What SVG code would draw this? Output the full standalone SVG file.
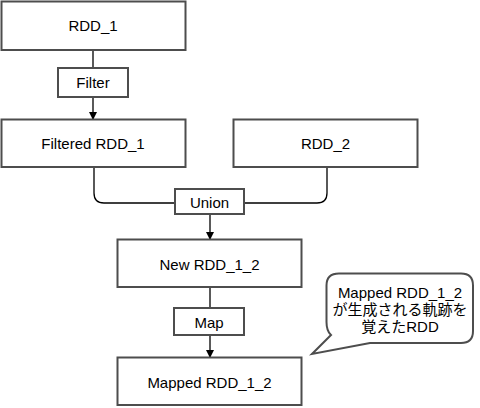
<svg xmlns="http://www.w3.org/2000/svg" width="480" height="408" viewBox="0 0 480 408">
<style>
.box{fill:#fff;stroke:#4d4d4d;stroke-width:2}
.lbl{fill:#fff;stroke:#4d4d4d;stroke-width:2}
.t{font-family:"Liberation Sans",Arial,sans-serif;font-size:15px;fill:#000;text-anchor:middle;dominant-baseline:central}
.c{fill:none;stroke:#000;stroke-width:1.3}
.cj{font-family:"Liberation Sans","Noto Sans CJK JP",sans-serif;font-size:15px;fill:#000;text-anchor:middle}
</style>
<defs>
<marker id="ah" markerWidth="8" markerHeight="8" refX="7" refY="4" orient="auto" markerUnits="userSpaceOnUse">
<path d="M0,0 L8,4 L0,8 Z" fill="#000"/>
</marker>
</defs>
<rect width="480" height="408" fill="#fff"/>
<g id="connectors">
<line class="c" x1="93" y1="50" x2="93" y2="68"/>
<line class="c" x1="93" y1="97" x2="93" y2="119" marker-end="url(#ah)"/>
<path class="c" d="M94,167 V193 Q94,203 104,203 H175"/>
<path class="c" d="M327,167 V193 Q327,203 317,203 H244"/>
<line class="c" x1="210" y1="214" x2="210" y2="239" marker-end="url(#ah)"/>
<line class="c" x1="210" y1="287" x2="210" y2="308"/>
<line class="c" x1="210" y1="335" x2="210" y2="357" marker-end="url(#ah)"/>
</g>
<g id="rdd1"><rect class="box" x="1.5" y="1.5" width="184" height="48.5"/><text class="t" x="93" y="25">RDD_1</text></g>
<g id="filter"><rect class="lbl" x="58" y="68" width="70" height="29"/><text class="t" x="93" y="82.5">Filter</text></g>
<g id="filtered"><rect class="box" x="1.5" y="119.5" width="184" height="47.5"/><text class="t" x="93" y="143.5">Filtered RDD_1</text></g>
<g id="rdd2"><rect class="box" x="233.5" y="119.5" width="184" height="47.5"/><text class="t" x="325.5" y="143.5">RDD_2</text></g>
<g id="union"><rect class="lbl" x="175" y="189" width="69" height="25"/><text class="t" x="209.5" y="202">Union</text></g>
<g id="new"><rect class="box" x="117.5" y="239.5" width="184" height="47.5"/><text class="t" x="209.5" y="264">New RDD_1_2</text></g>
<g id="map"><rect class="lbl" x="174" y="308" width="70" height="27"/><text class="t" x="209" y="322">Map</text></g>
<g id="mapped"><rect class="box" x="117.5" y="357.5" width="184" height="47.5"/><text class="t" x="209.5" y="382">Mapped RDD_1_2</text></g>
<g id="callout">
<path d="M339,273.5 H461 Q473,273.5 473,285.5 V331 Q473,343 461,343 H370 L312,354 L331,335 Q326.5,331 326.5,322 V285.5 Q326.5,273.5 339,273.5 Z" fill="#fff" stroke="#4d4d4d" stroke-width="2"/>
<text class="cj" x="400" y="298">Mapped RDD_1_2</text>
<text class="cj" x="400" y="315">が生成される軌跡を</text>
<text class="cj" x="400" y="332">覚えたRDD</text>
</g>
</svg>
